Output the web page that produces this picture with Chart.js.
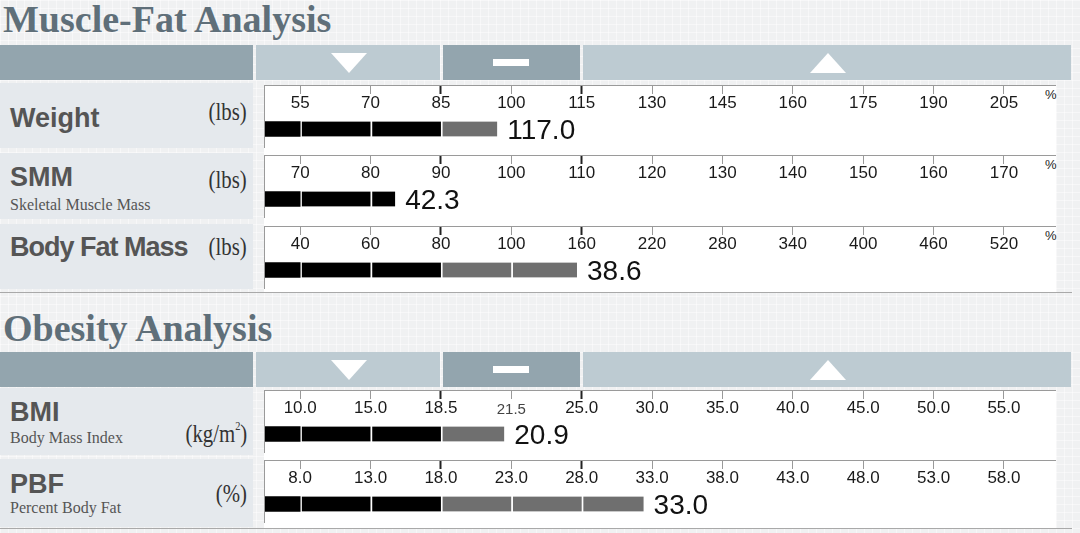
<!DOCTYPE html>
<html>
<head>
<meta charset="utf-8">
<script src="https://cdn.jsdelivr.net/npm/chart.js@4.4.0/dist/chart.umd.min.js"></script>
<style>
  body { margin: 0; width: 1080px; height: 533px; overflow: hidden; position: relative;
    background-color: #f0f1f2;
    background-image: linear-gradient(rgba(255,255,255,0.45) 1px, transparent 1px),
                      linear-gradient(90deg, rgba(255,255,255,0.45) 1px, transparent 1px);
    background-size: 8px 8px; }
  .abs { position: absolute; }
  .title { left: 3px; font: bold 38px/38px "Liberation Serif", serif; color: #5f6f79; white-space: nowrap; }
  .hd { height: 35px; }
  .dark { background: #93a5ae; }
  .light { background: #bdcbd2; }
  .down { width: 0; height: 0; border-left: 18px solid transparent; border-right: 18px solid transparent; border-top: 20px solid #fff; }
  .up { width: 0; height: 0; border-left: 18px solid transparent; border-right: 18px solid transparent; border-bottom: 20px solid #fff; }
  .dash { width: 36px; height: 7px; background: #fff; }
  .panel { left: 0; width: 253px; background: #e5e9ed; }
  .name { left: 10px; font: bold 27px/27px "Liberation Sans", Arial, sans-serif; color: #555; white-space: nowrap; }
  .sub { left: 10px; font: 16px/16px "Liberation Serif", serif; color: #555; white-space: nowrap; }
  .unit { right: 833px; font: 26px/26px "Liberation Serif", serif; color: #333; white-space: nowrap;
    transform: scaleX(0.8); transform-origin: right center; }
  .unit sup { font-size: 13px; vertical-align: 12px; }
  .white { left: 264px; width: 792px; background: #fff; }
  .line { left: 0; width: 1072px; height: 1px; background: #a9a9a9; }
  .plot { left: 264px; width: 791px; border-top: 1px solid #9a9a9a; border-left: 1px solid #9a9a9a; }
  .plot canvas { display: block; }
  .pct { left: 1045px; font: 13px/13px "Liberation Sans", Arial, sans-serif; color: #222; }
</style>
</head>
<body>
<div class="abs title" style="top:0px">Muscle-Fat Analysis</div>
<div class="abs title" style="top:309px">Obesity Analysis</div>
<div id="page"></div>
<script>
// row labels
const rowNames = ['Weight', 'SMM', 'Body Fat Mass', 'BMI', 'PBF'];
const rowSubs = ['', 'Skeletal Muscle Mass', '', 'Body Mass Index', 'Percent Body Fat'];
const rowUnits = ['(lbs)', '(lbs)', '(lbs)', '(kg/m<sup>2</sup>)', '(%)'];

// tick labels of each row's scale
const weightTicks = ['55', '70', '85', '100', '115', '130', '145', '160', '175', '190', '205'];
const smmTicks = ['70', '80', '90', '100', '110', '120', '130', '140', '150', '160', '170'];
const fatTicks = ['40', '60', '80', '100', '160', '220', '280', '340', '400', '460', '520'];
const bmiTicks = ['10.0', '15.0', '18.5', '21.5', '25.0', '30.0', '35.0', '40.0', '45.0', '50.0', '55.0'];
const pbfTicks = ['8.0', '13.0', '18.0', '23.0', '28.0', '33.0', '38.0', '43.0', '48.0', '53.0', '58.0'];

// where each bar ends, read on its own scale, and the printed result
const barLevels = [97, 83.5, 156, 21.2, 32.4];
const resultValues = ['117.0', '42.3', '38.6', '20.9', '33.0'];

const tickSets = [weightTicks, smmTicks, fatTicks, bmiTicks, pbfTicks];
const normalLow = 2, normalHigh = 4; // tick index of the normal range edges

// layout
const panelTops = [83, 153, 224, 388, 459];
const panelHeights = [65, 66, 65, 67, 68];
const plotTops = [85, 155, 226, 390, 460];
const nameTops = [105, 164, 234, 399, 471];
const subTops = [0, 197, 0, 430, 500];
const unitTops = [99, 167, 234, 413, 481];

const page = document.getElementById('page');
function add(cls, style, html) {
  const d = document.createElement('div');
  d.className = 'abs ' + cls;
  d.style.cssText = style;
  if (html) d.innerHTML = html;
  page.appendChild(d);
  return d;
}

// header bars
[45, 352].forEach((top) => {
  add('hd dark', `top:${top}px;left:0;width:253px`);
  add('hd light', `top:${top}px;left:256px;width:184px`);
  add('hd dark', `top:${top}px;left:443px;width:137px`);
  add('hd light', `top:${top}px;left:583px;width:488px`);
  add('down', `top:${top + 8}px;left:331px`);
  add('dash', `top:${top + 14}px;left:493px`);
  add('up', `top:${top + 8}px;left:810px`);
});
add('white', 'top:85px;height:207px');
add('white', 'top:390px;height:138px');
add('line', 'top:292px');
add('line', 'top:528px');

function toPos(ticks, v) {
  const n = ticks.map(Number);
  for (let i = 1; i < n.length; i++) {
    if (v <= n[i] || i === n.length - 1) return i - 1 + (v - n[i - 1]) / (n[i] - n[i - 1]);
  }
}

function valueLabel(text) {
  return {
    id: 'valueLabel',
    afterDatasetsDraw(chart) {
      const metas = chart.getSortedVisibleDatasetMetas();
      const bar = metas[metas.length - 1].data[0];
      const ctx = chart.ctx;
      ctx.save();
      ctx.font = '28px "Liberation Sans", Arial, sans-serif';
      ctx.fillStyle = '#111';
      ctx.textBaseline = 'middle';
      ctx.textAlign = 'left';
      ctx.fillText(text, bar.x + 10, bar.y + 2);
      ctx.restore();
    }
  };
}

function makeRow(r) {
  const ticks = tickSets[r];
  add('panel', `top:${panelTops[r]}px;height:${panelHeights[r]}px`);
  add('name', `top:${nameTops[r]}px` + (r === 2 ? ';letter-spacing:-1px' : ''), rowNames[r]);
  if (rowSubs[r]) add('sub', `top:${subTops[r]}px`, rowSubs[r]);
  add('unit', `top:${unitTops[r]}px`, rowUnits[r]);
  if (r < 3) add('pct', `top:${plotTops[r] + 3}px`, '%');

  const wrap = add('plot', `top:${plotTops[r]}px;height:62px`);
  const canvas = document.createElement('canvas');
  canvas.width = 791;
  canvas.height = 62;
  wrap.appendChild(canvas);

  const end = toPos(ticks, barLevels[r]);
  const cuts = [-0.5, ...ticks.map((_, i) => i)];
  const segs = [];
  for (let i = 0; i < cuts.length - 1 && cuts[i] < end; i++) {
    segs.push([cuts[i], Math.min(cuts[i + 1], end)]);
  }

  const setTicks = (s) => { s.ticks = ticks.map((_, i) => ({ value: i })); };
  const isMajor = (c) => c.index === normalLow || c.index === normalHigh;

  new Chart(canvas, {
    type: 'bar',
    data: {
      labels: [rowNames[r]],
      datasets: segs.map((s) => ({
        data: [s],
        backgroundColor: s[1] <= normalLow ? '#000000' : '#6f6f6f',
        borderColor: '#ffffff',
        borderWidth: { left: s[0] > -0.5 ? 2 : 0, right: 0, top: 0, bottom: 0 },
        borderSkipped: false,
        barThickness: 15,
        grouped: false
      }))
    },
    options: {
      indexAxis: 'y',
      responsive: false,
      animation: false,
      events: [],
      layout: { padding: { top: 0, right: 0, bottom: 3.6, left: 0 } },
      plugins: { legend: { display: false }, tooltip: { enabled: false } },
      scales: {
        y: { type: 'category', display: false },
        x: {
          type: 'linear', position: 'top', min: -0.5, max: 10.74, weight: 0,
          afterBuildTicks: setTicks,
          grid: { display: false, drawTicks: false },
          border: { display: false },
          ticks: {
            padding: 3,
            color: (c) => ticks[c.index] === '21.5' ? '#444' : '#1a1a1a',
            font: (c) => ({ family: '"Liberation Sans", Arial, sans-serif', size: ticks[c.index] === '21.5' ? 15 : 17, lineHeight: 0.8 }),
            callback: (v, i) => ticks[i]
          }
        },
        x2: {
          type: 'linear', axis: 'x', position: 'top', min: -0.5, max: 10.74, weight: 1, display: true,
          afterBuildTicks: setTicks,
          grid: {
            drawOnChartArea: false, drawTicks: true, tickLength: 8,
            tickColor: (c) => isMajor(c) ? '#222' : '#999',
            tickWidth: (c) => isMajor(c) ? 2 : 1
          },
          border: { display: false },
          ticks: { display: false }
        }
      }
    },
    plugins: [valueLabel(resultValues[r])]
  });
}

rowNames.forEach((_, r) => makeRow(r));
</script>
</body>
</html>
